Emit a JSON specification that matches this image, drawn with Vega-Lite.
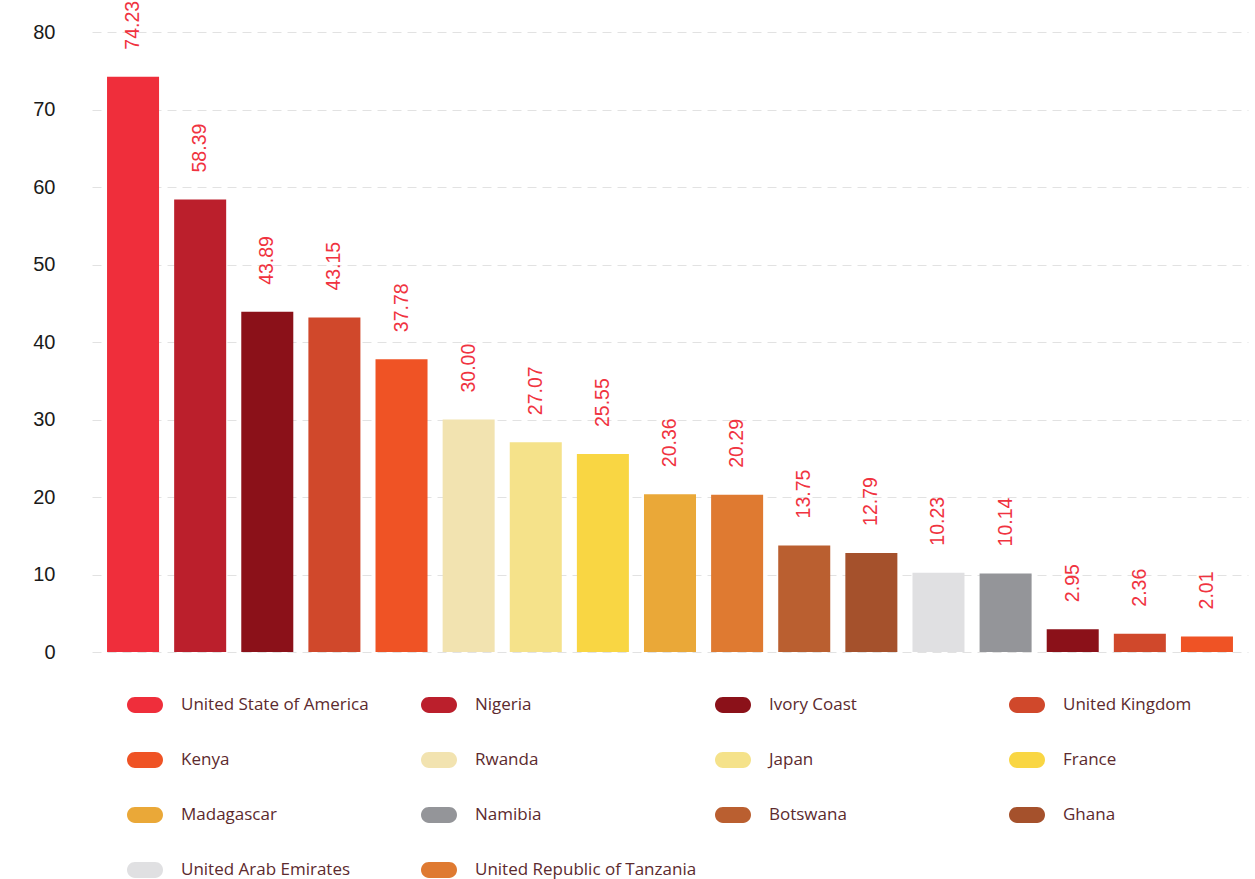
{
  "$schema": "https://vega.github.io/schema/vega-lite/v6.json",
  "width": 1156,
  "height": 620,
  "autosize": {"type": "none"},
  "padding": {"left": 92, "top": 32, "right": 7, "bottom": 227},
  "background": "white",
  "config": {
    "view": {"stroke": null},
    "font": "Liberation Sans"
  },
  "data": {
    "values": [
      {"id": 1, "country": "United State of America", "value": 74.23},
      {"id": 2, "country": "Nigeria", "value": 58.39},
      {"id": 3, "country": "Ivory Coast", "value": 43.89},
      {"id": 4, "country": "United Kingdom", "value": 43.15},
      {"id": 5, "country": "Kenya", "value": 37.78},
      {"id": 6, "country": "Rwanda", "value": 30.00},
      {"id": 7, "country": "Japan", "value": 27.07},
      {"id": 8, "country": "France", "value": 25.55},
      {"id": 9, "country": "Madagascar", "value": 20.36},
      {"id": 10, "country": "United Republic of Tanzania", "value": 20.29},
      {"id": 11, "country": "Botswana", "value": 13.75},
      {"id": 12, "country": "Ghana", "value": 12.79},
      {"id": 13, "country": "United Arab Emirates", "value": 10.23},
      {"id": 14, "country": "Namibia", "value": 10.14},
      {"id": 15, "country": "Ivory Coast", "value": 2.95},
      {"id": 16, "country": "United Kingdom", "value": 2.36},
      {"id": 17, "country": "Kenya", "value": 2.01}
    ]
  },
  "encoding": {
    "x": {
      "field": "id",
      "type": "ordinal",
      "sort": null,
      "axis": null,
      "scale": {"paddingInner": 0.225, "paddingOuter": 0.224}
    },
    "y": {
      "field": "value",
      "type": "quantitative",
      "scale": {"domain": [0, 80], "nice": false},
      "axis": {
        "title": null,
        "values": [0, 10, 20, 30, 40, 50, 60, 70, 80],
        "domain": false,
        "ticks": false,
        "labelPadding": 37,
        "labelFontSize": 20,
        "labelColor": "#1a1a1a",
        "gridColor": "#e2e2e2",
        "gridDash": [9, 6],
        "gridWidth": 1
      }
    }
  },
  "layer": [
    {
      "mark": {"type": "bar"},
      "encoding": {
        "color": {
          "field": "country",
          "type": "nominal",
          "scale": {
            "domain": ["United State of America", "Nigeria", "Ivory Coast", "United Kingdom", "Kenya", "Rwanda", "Japan", "France", "Madagascar", "Namibia", "Botswana", "Ghana", "United Arab Emirates", "United Republic of Tanzania"],
            "range": ["#ef2e3b", "#bb1f2c", "#8b1119", "#d0482b", "#ef5325", "#f2e3b0", "#f5e28a", "#f9d643", "#eaa838", "#949599", "#ba5f30", "#a5512c", "#e0e0e2", "#df7a31"]
          },
          "legend": {
            "title": null,
            "orient": "none",
            "legendX": 35,
            "legendY": 655,
            "direction": "horizontal",
            "columns": 4,
            "gridAlign": "all",
            "columnPadding": 17,
            "rowPadding": 29,
            "symbolType": "M -0.56 -0.44 L 0.56 -0.44 A 0.44 0.44 0 0 1 0.56 0.44 L -0.56 0.44 A 0.44 0.44 0 0 1 -0.56 -0.44 Z",
            "symbolSize": 1296,
            "symbolStrokeWidth": 0,
            "symbolOpacity": 1,
            "labelOffset": 18,
            "labelFont": "Open Sans",
            "labelFontSize": 17,
            "labelColor": "#5c2a2e",
            "labelLimit": 300
          }
        }
      }
    },
    {
      "mark": {
        "type": "text",
        "angle": 270,
        "align": "left",
        "baseline": "middle",
        "dx": 27,
        "fontSize": 19.5,
        "color": "#f0333f"
      },
      "encoding": {
        "text": {"field": "value", "type": "quantitative", "format": ".2f"}
      }
    }
  ]
}
